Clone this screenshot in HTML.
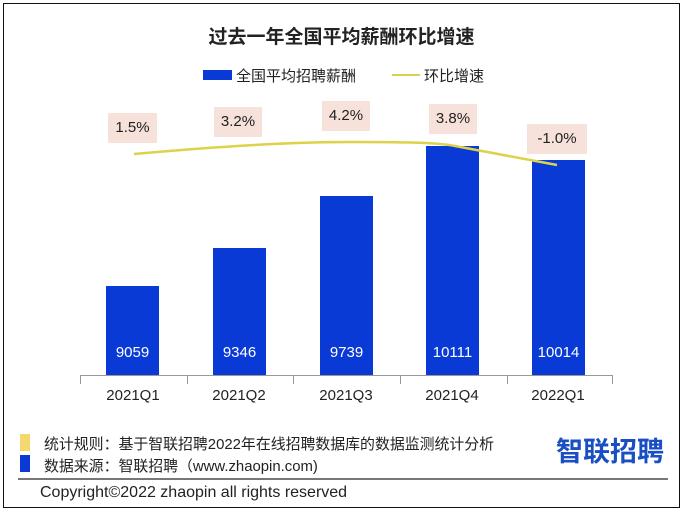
<!DOCTYPE html>
<html><head><meta charset="utf-8"><style>
body{margin:0;width:683px;height:513px;background:#fff;position:relative;overflow:hidden;font-family:"Liberation Sans","Noto Sans CJK SC",sans-serif;color:#222}
.a{position:absolute;white-space:nowrap}
.bar{position:absolute;background:#0a3ad6;width:53px}
.v{position:absolute;color:#fff;font-size:15px;width:53px;text-align:center;top:344px}
.lb{position:absolute;background:#f6e2da;font-size:15px;text-align:center;line-height:30px;height:30px}
.x{position:absolute;top:387px;font-size:15px;width:100px;text-align:center}
.t{position:absolute;top:376px;width:1px;height:8px;background:#999}
</style></head><body>
<div class="a" style="left:3px;top:3px;width:675px;height:503px;border:1px solid #111"></div>
<div class="a" style="left:0;width:683px;text-align:center;top:22px;font-size:19px;font-weight:bold">过去一年全国平均薪酬环比增速</div>
<div class="a" style="left:203px;top:70px;width:29px;height:10px;background:#0a3ad6"></div>
<div class="a" style="left:236px;top:65px;font-size:15px">全国平均招聘薪酬</div>
<div class="a" style="left:392px;top:74px;width:28px;height:2px;background:#d8d050"></div>
<div class="a" style="left:424px;top:65px;font-size:15px">环比增速</div>
<div class="lb" style="left:108px;top:113px;width:49px">1.5%</div>
<div class="lb" style="left:214px;top:107px;width:48px">3.2%</div>
<div class="lb" style="left:322px;top:101px;width:48px">4.2%</div>
<div class="lb" style="left:429px;top:104px;width:48px">3.8%</div>
<div class="lb" style="left:527px;top:124px;width:60px">-1.0%</div>
<div class="bar" style="left:106px;top:286px;height:89px"></div>
<div class="bar" style="left:213px;top:248px;height:127px"></div>
<div class="bar" style="left:320px;top:196px;height:179px"></div>
<div class="bar" style="left:426px;top:146px;height:229px"></div>
<div class="bar" style="left:532px;top:160px;height:215px"></div>
<div class="v" style="left:106px">9059</div>
<div class="v" style="left:213px">9346</div>
<div class="v" style="left:320px">9739</div>
<div class="v" style="left:426px">10111</div>
<div class="v" style="left:532px">10014</div>
<svg class="a" style="left:0;top:0" width="683" height="513"><path d="M134,154 C200,148 280,142 350,142 S440,143 455,146 L557,165" fill="none" stroke="#ddd24a" stroke-width="2.5"/></svg>
<div class="a" style="left:80px;top:375px;width:533px;height:1px;background:#999"></div>
<div class="t" style="left:80px"></div><div class="t" style="left:187px"></div><div class="t" style="left:293px"></div><div class="t" style="left:400px"></div><div class="t" style="left:507px"></div><div class="t" style="left:612px"></div>
<div class="x" style="left:83px">2021Q1</div><div class="x" style="left:189px">2021Q2</div><div class="x" style="left:296px">2021Q3</div><div class="x" style="left:402px">2021Q4</div><div class="x" style="left:508px">2022Q1</div>
<div class="a" style="left:20px;top:434px;width:10px;height:17px;background:#f5d770"></div>
<div class="a" style="left:20px;top:455px;width:10px;height:17px;background:#0a3ad6"></div>
<div class="a" style="left:44px;top:433px;font-size:14.9px">统计规则：基于智联招聘2022年在线招聘数据库的数据监测统计分析</div>
<div class="a" style="left:44px;top:455px;font-size:14.9px">数据来源：智联招聘（www.zhaopin.com)</div>
<div class="a" style="left:556px;top:430px;font-size:27px;font-weight:bold;color:#1a4fc4">智联招聘</div>
<div class="a" style="left:18px;top:478px;width:650px;height:2px;background:#777"></div>
<div class="a" style="left:40px;top:484px;font-size:16px">Copyright©2022 zhaopin all rights reserved</div>
</body></html>
